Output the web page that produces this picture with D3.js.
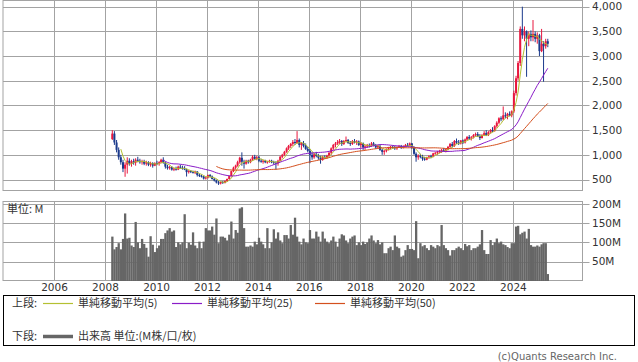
<!DOCTYPE html>
<html>
<head>
<meta charset="utf-8">
<script src="https://cdnjs.cloudflare.com/ajax/libs/d3/7.8.5/d3.min.js"></script>
<style>
  body { margin: 0; background: #fff; }
  svg { display: block; }
  text { font-family: "DejaVu Sans", sans-serif; fill: #333; }
  .jp { font-family: "Noto Sans CJK JP", sans-serif; }
</style>
</head>
<body>
<script>
// monthly bars, Apr 2008 .. May 2025
var firstMonth = new Date(2008, 3, 1);

var open = [
  1320,1430,1250,1100,950,850,720,800,880,
  820,870,840,900,880,850,870,820,850,800,830,780,
  830,820,850,900,840,760,730,750,700,720,700,760,
  740,720,700,650,670,650,640,660,590,570,560,520,
  540,590,560,510,480,440,420,450,430,470,510,570,
  670,740,780,850,940,860,820,880,850,900,960,920,
  950,880,860,880,850,860,880,850,840,830,880,960,
  1000,1060,1130,1180,1220,1260,1240,1300,1200,1240,1180,1120,
  1080,1000,950,1010,980,940,900,960,940,980,1040,1130,
  1200,1230,1260,1280,1220,1280,1300,1240,1220,1280,1250,1270,
  1200,1230,1150,1170,1200,1180,1230,1190,1150,1180,1100,1060,
  1080,1120,1140,1160,1150,1130,1160,1180,1140,1170,1200,1190,
  1230,1150,1020,950,980,960,920,900,950,970,960,1030,
  1040,1060,1080,1100,1080,1110,1160,1220,1180,1280,1250,1230,
  1290,1250,1310,1360,1330,1350,1400,1420,1380,1340,1400,1440,
  1400,1460,1500,1480,1580,1650,1740,1720,1800,1780,1830,1800,
  1880,2250,2550,2860,3550,3420,3500,3350,3450,3380,3450,3350,
  3420,3100,3250,3200,3300
];
var high = [
  1500,1480,1300,1150,1000,900,850,950,930,
  900,920,930,960,920,900,900,880,870,860,850,850,
  880,870,920,950,860,800,780,770,740,760,780,800,
  780,770,720,690,690,680,680,670,620,600,580,560,
  600,610,580,530,500,470,460,470,480,520,580,680,
  760,800,880,960,1050,900,900,900,920,990,1000,980,
  980,920,900,900,880,900,900,880,870,900,980,1020,
  1080,1150,1200,1240,1300,1320,1480,1330,1260,1280,1230,1160,
  1120,1060,1040,1060,1020,980,980,990,1000,1060,1150,1220,
  1260,1300,1320,1300,1300,1370,1320,1280,1300,1320,1300,1290,
  1260,1250,1200,1220,1230,1260,1260,1220,1200,1200,1120,1100,
  1130,1160,1180,1190,1180,1170,1200,1200,1190,1220,1240,1250,
  1240,1170,1050,1010,1020,1000,960,960,990,1000,1040,1060,
  1080,1100,1120,1140,1130,1180,1240,1260,1300,1330,1300,1300,
  1310,1330,1380,1400,1380,1420,1450,1460,1420,1420,1480,1500,
  1480,1520,1560,1600,1680,1760,1780,1980,1860,1850,1880,1900,
  2300,2600,2900,3600,4000,3600,3520,3500,3520,3730,3500,3480,
  3450,3550,3300,3350,3350
];
var low = [
  1300,1200,1050,900,800,650,555,620,780,
  760,800,780,850,820,800,790,780,770,760,740,770,
  790,780,830,820,720,700,700,680,670,680,690,720,
  700,690,560,620,630,620,610,560,550,540,500,500,
  520,540,500,460,420,390,400,410,420,450,500,560,
  650,700,760,820,780,720,800,820,830,880,900,890,
  850,840,820,830,820,840,830,800,700,780,870,930,
  980,1040,1100,1140,1180,1200,1220,1150,1100,1150,1100,1050,
  830,900,920,950,900,820,880,920,920,960,1000,1100,
  1150,1200,1220,1180,1200,1250,1220,1180,1200,1230,1200,1180,
  1150,1100,1100,1140,1150,1160,1170,1120,1130,1080,1000,1000,
  1050,1090,1110,1120,1100,1100,1140,1120,1130,1150,1170,1170,
  1120,1000,860,900,930,880,880,890,920,930,950,1000,
  1000,1030,1040,1060,1050,1090,1140,1150,1160,1220,1200,1210,
  1220,1230,1290,1300,1290,1330,1370,1360,1300,1330,1380,1380,
  1380,1430,1460,1470,1550,1620,1680,1700,1740,1720,1780,1760,
  1850,2200,2500,2800,3350,3300,2580,3200,3300,3300,3280,3250,
  3000,3080,2480,3150,3180
];
var close = [
  1430,1250,1100,950,850,720,800,880,820,
  870,840,900,880,850,870,820,850,800,830,780,830,
  820,850,900,840,760,730,750,700,720,700,760,740,
  720,700,650,670,650,640,660,590,570,560,520,540,
  590,560,510,480,440,420,450,430,470,510,570,670,
  740,780,850,940,860,820,880,850,900,960,920,950,
  880,860,880,850,860,880,850,840,830,880,960,1000,
  1060,1130,1180,1220,1260,1240,1300,1200,1240,1180,1120,1080,
  1000,950,1010,980,940,900,960,940,980,1040,1130,1200,
  1230,1260,1280,1220,1280,1300,1240,1220,1280,1250,1270,1200,
  1230,1150,1170,1200,1180,1230,1190,1150,1180,1100,1060,1080,
  1120,1140,1160,1150,1130,1160,1180,1140,1170,1200,1190,1230,
  1150,1020,950,980,960,920,900,950,970,960,1030,1040,
  1060,1080,1100,1080,1110,1160,1220,1180,1280,1250,1230,1290,
  1250,1310,1360,1330,1350,1400,1420,1380,1340,1400,1440,1400,
  1460,1500,1480,1580,1650,1740,1720,1800,1780,1830,1800,1880,
  2250,2550,2860,3550,3420,3500,3350,3450,3380,3450,3350,3420,
  3100,3250,3200,3300,3250
];
// volume, millions
var volume = [
  115,82,88,98,82,109,175,110,112,
  92,88,153,100,85,109,96,86,63,116,94,75,
  85,92,109,109,124,131,137,128,131,88,100,95,
  100,173,85,99,94,126,92,85,102,85,102,137,
  131,131,141,120,162,98,115,115,112,105,120,154,
  110,132,125,188,191,137,89,89,92,89,102,95,
  112,102,95,85,137,85,100,134,110,126,105,98,
  119,119,110,145,120,164,115,102,95,110,100,98,
  132,110,110,128,115,102,128,110,102,98,105,115,
  102,89,110,121,118,105,98,110,115,118,93,100,
  93,102,96,100,110,118,105,98,106,95,100,72,
  72,85,89,80,118,89,85,63,66,80,93,83,
  83,80,155,59,98,90,93,85,80,93,89,85,
  93,90,145,93,85,80,66,80,80,85,89,85,
  80,96,90,93,80,85,85,89,95,132,80,70,
  70,106,93,100,110,98,102,95,93,88,85,98,
  98,141,143,121,125,128,110,135,93,89,89,92,
  89,95,98,98,18
];

var priceTicks = [500, 1000, 1500, 2000, 2500, 3000, 3500, 4000];
var volTicks = [50, 100, 150, 200];
var yearTicks = [2006, 2008, 2010, 2012, 2014, 2016, 2018, 2020, 2022, 2024];
var maPeriods = [5, 25, 50];
var maColors = ['#b4c032', '#8a1cc8', '#d4501e'];
var maNames = ['単純移動平均(5)', '単純移動平均(25)', '単純移動平均(50)'];

var width = 638, height = 362;
var left = 3, right = 582.5;

var svg = d3.select('body').append('svg')
    .attr('width', width)
    .attr('height', height);

var months = d3.range(close.length).map(function (i) {
    return d3.timeMonth.offset(firstMonth, i);
});
var bars = months.map(function (m, i) {
    return {date: d3.timeDay.offset(m, 14), o: open[i], h: high[i], l: low[i], c: close[i], v: volume[i]};
});

var x = d3.scaleTime()
    .domain([new Date(2004, 0, 1), new Date(2026, 8, 24)])
    .range([left, right]);

var y = d3.scaleLinear().domain([500, 4000]).range([179.5, 6.7]);
var yv = d3.scaleLinear().domain([0, 200]).range([281, 203.8]);

var grid = '#a3a3a3';

// ---- upper panel
var upper = svg.append('g');
upper.append('rect')
    .attr('x', left).attr('y', 0.5)
    .attr('width', right - left).attr('height', 190)
    .attr('fill', 'none').attr('stroke', grid);

yearTicks.forEach(function (yr) {
    var xx = Math.round(x(new Date(yr, 0, 1))) + 0.5;
    upper.append('line').attr('x1', xx).attr('x2', xx).attr('y1', 0.5).attr('y2', 190.5).attr('stroke', grid);
});

upper.selectAll('.pt').data(priceTicks).enter().append('line')
    .attr('x1', left).attr('x2', right + 7)
    .attr('y1', function (d) { return Math.round(y(d)) + 0.5; })
    .attr('y2', function (d) { return Math.round(y(d)) + 0.5; })
    .attr('stroke', grid);

upper.selectAll('.pl').data(priceTicks).enter().append('text')
    .attr('x', 592).attr('y', function (d) { return y(d); })
    .attr('dy', '0.36em')
    .style('font-size', '10.5px')
    .text(d3.format(','));

// candles
var up = '#e8173e', down = '#1b3a8c';
var candles = upper.selectAll('.c').data(bars).enter().append('g');
candles.append('line')
    .attr('x1', function (d) { return x(d.date); })
    .attr('x2', function (d) { return x(d.date); })
    .attr('y1', function (d) { return y(d.h); })
    .attr('y2', function (d) { return y(d.l); })
    .attr('stroke', function (d) { return d.c >= d.o ? up : down; })
    .attr('stroke-width', 1);
candles.append('rect')
    .attr('x', function (d) { return x(d.date) - 1; })
    .attr('y', function (d) { return y(Math.max(d.o, d.c)); })
    .attr('width', 2)
    .attr('height', function (d) { return Math.max(0.8, Math.abs(y(d.o) - y(d.c))); })
    .attr('fill', function (d) { return d.c >= d.o ? up : down; });

// moving averages of closes
maPeriods.forEach(function (p, k) {
    var pts = [];
    for (var i = p - 1; i < bars.length; i++) {
        pts.push({date: bars[i].date, v: d3.mean(close.slice(i - p + 1, i + 1))});
    }
    upper.append('path')
        .datum(pts)
        .attr('fill', 'none')
        .attr('stroke', maColors[k])
        .attr('stroke-width', 1)
        .attr('d', d3.line().x(function (d) { return x(d.date); }).y(function (d) { return y(d.v); }));
});

// ---- lower panel
var lower = svg.append('g');
lower.append('rect')
    .attr('x', left).attr('y', 201.5)
    .attr('width', right - left).attr('height', 79)
    .attr('fill', 'none').attr('stroke', grid);

yearTicks.forEach(function (yr) {
    var xx = Math.round(x(new Date(yr, 0, 1))) + 0.5;
    lower.append('line').attr('x1', xx).attr('x2', xx).attr('y1', 201.5).attr('y2', 280.5).attr('stroke', grid);
});
lower.selectAll('.vt').data(volTicks).enter().append('line')
    .attr('x1', left).attr('x2', right + 7)
    .attr('y1', function (d) { return Math.round(yv(d)) + 0.5; })
    .attr('y2', function (d) { return Math.round(yv(d)) + 0.5; })
    .attr('stroke', grid);
lower.selectAll('.vl').data(volTicks).enter().append('text')
    .attr('x', 592).attr('y', function (d) { return yv(d); })
    .attr('dy', '0.36em')
    .style('font-size', '10.5px')
    .text(function (d) { return d + 'M'; });

lower.selectAll('.vb').data(bars).enter().append('rect')
    .attr('x', function (d) { return x(d.date) - 1.1; })
    .attr('width', 2.3)
    .attr('y', function (d) { return yv(d.v); })
    .attr('height', function (d) { return yv(0) - yv(d.v); })
    .attr('fill', '#666');

lower.append('text').attr('class', 'jp')
    .attr('x', 7).attr('y', 213)
    .style('font-size', '11px')
    .text('単位: M');

// year labels
svg.selectAll('.yr').data(yearTicks).enter().append('text')
    .attr('x', function (d) { return x(new Date(d, 0, 1)) + 0.5; })
    .attr('y', 291)
    .attr('text-anchor', 'middle')
    .style('font-size', '10.5px')
    .text(function (d) { return d; });

// ---- legend
var lg = svg.append('g');
lg.append('rect').attr('x', 3.5).attr('y', 295.5).attr('width', 631).attr('height', 50)
    .attr('fill', 'none').attr('stroke', '#000');
lg.append('text').attr('class', 'jp').attr('x', 12).attr('y', 307).style('font-size', '11px').text('上段:');
var lx = [43, 172, 315];
maNames.forEach(function (n, k) {
    lg.append('line').attr('x1', lx[k]).attr('x2', lx[k] + 30).attr('y1', 303.5).attr('y2', 303.5)
        .attr('stroke', maColors[k]).attr('stroke-width', 1.2);
    lg.append('text').attr('class', 'jp').attr('x', lx[k] + 35).attr('y', 307)
        .style('font-size', '11px').text(n);
});
lg.append('text').attr('class', 'jp').attr('x', 12).attr('y', 340).style('font-size', '11px').text('下段:');
lg.append('line').attr('x1', 43).attr('x2', 73).attr('y1', 336.5).attr('y2', 336.5)
    .attr('stroke', '#666').attr('stroke-width', 3.5);
lg.append('text').attr('class', 'jp').attr('x', 78).attr('y', 340).style('font-size', '11px')
    .text('出来高 単位:(M株/口/枚)');

svg.append('text')
    .attr('x', 617).attr('y', 360)
    .attr('text-anchor', 'end')
    .style('font-size', '10px')
    .style('fill', '#666')
    .text('(c)Quants Research Inc.');
</script>
</body>
</html>
